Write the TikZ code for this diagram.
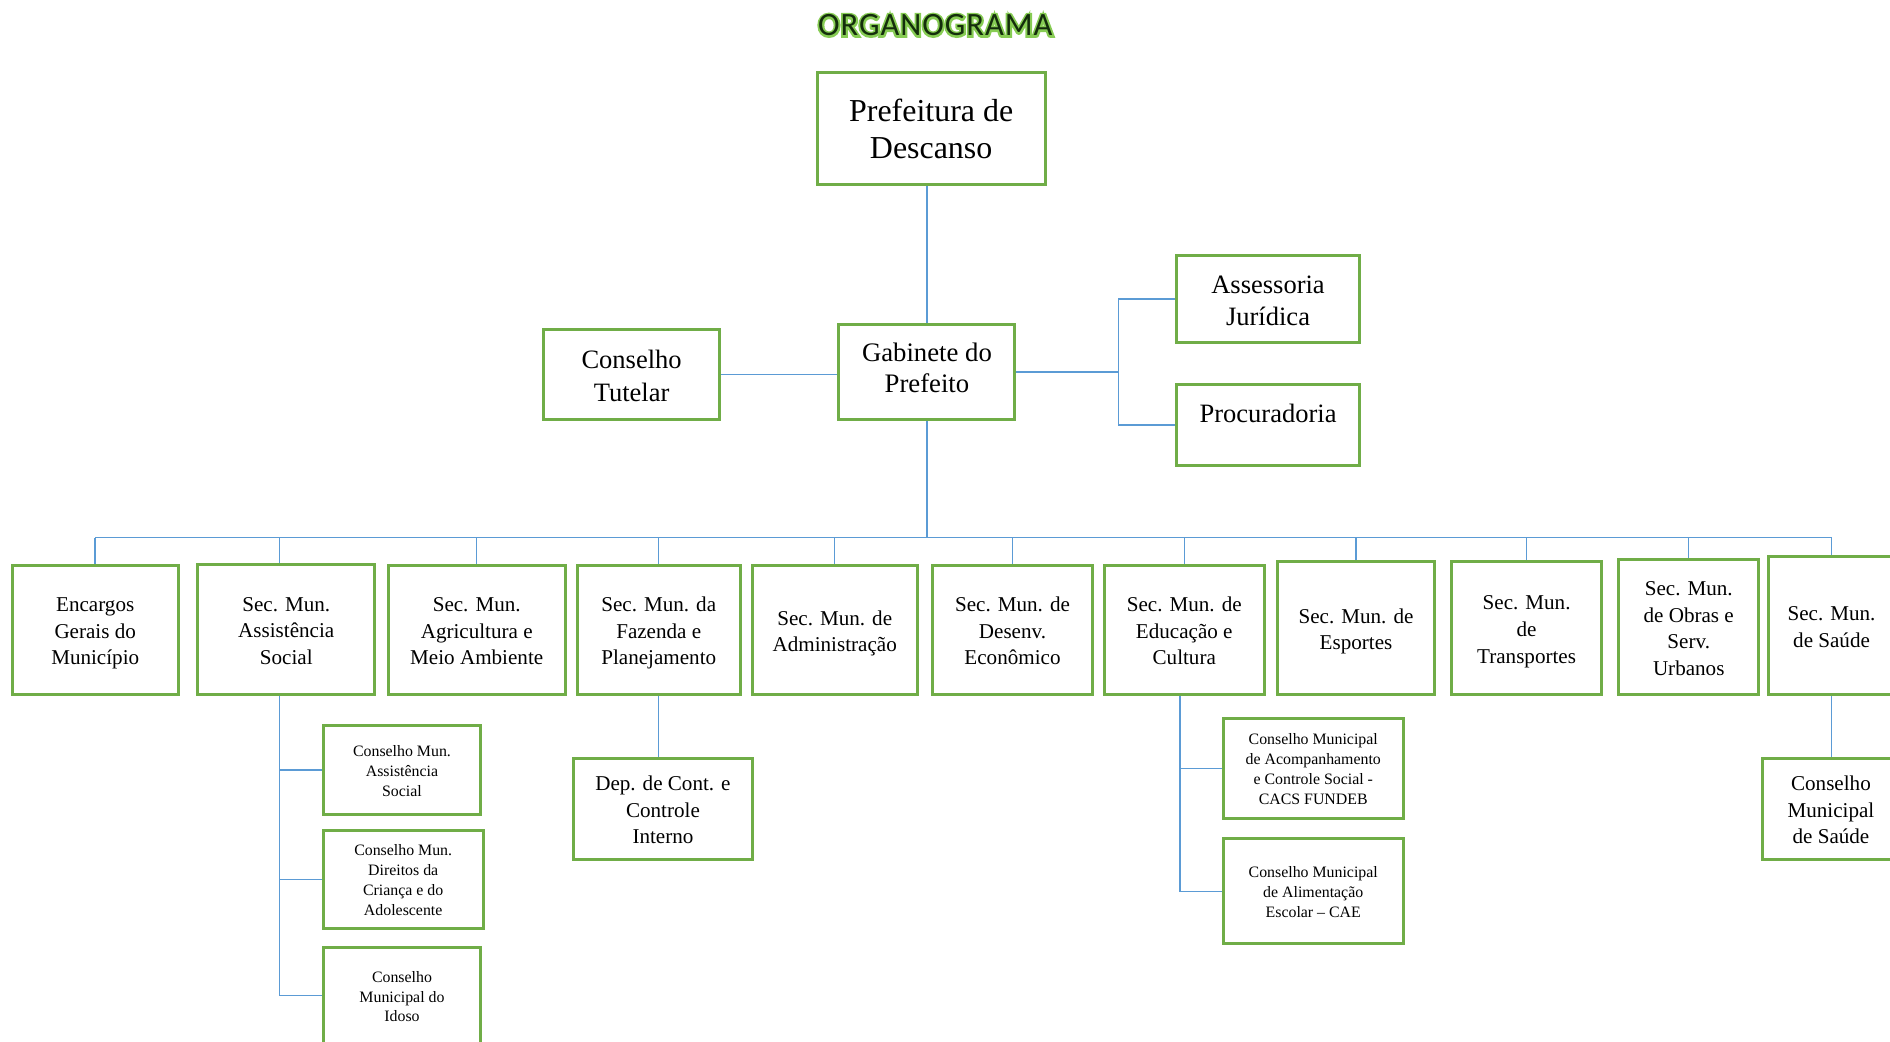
\documentclass[tikz,border=0pt]{standalone}
\usepackage{fontspec}
\setmainfont{Liberation Serif}
\newfontfamily\titlefont{Carlito}[LetterSpace=3]
\definecolor{boxgreen}{HTML}{70AD47}
\definecolor{lineblue}{HTML}{5B9BD5}
\definecolor{titlefill}{HTML}{142E0C}
\definecolor{titleglow}{HTML}{86CC55}
\tikzset{
  box/.style={draw=boxgreen, line width=1.5pt, fill=white, inner sep=0pt, align=center},
  big/.style={font=\fontsize{15.9}{18}\selectfont},
  gab/.style={font=\fontsize{13.3}{15.6}\selectfont},
  mid/.style={font=\fontsize{13.2}{16.4}\selectfont},
  reg/.style={font=\fontsize{10.5}{13.2}\selectfont},
  sml/.style={font=\fontsize{7.9}{9.9}\selectfont},
  conn/.style={draw=lineblue, line width=0.75pt},
}
\newcommand\tx[2][-0.12\baselineskip]{\raisebox{#1}[\height][\depth]{\begin{tabular}{@{}c@{}}#2\end{tabular}}}
\newcommand\mkbox[7]{%
  \node[box,#6, minimum width={(#4-#2)*0.6pt}, minimum height={(#5-#3)*0.6pt}]
    (#1) at ({(#2+#4)/2},{(#3+#5)/2}) {#7};}
\begin{document}
\begin{tikzpicture}[x=0.6pt,y=-0.6pt]
\useasboundingbox (0,0) rectangle (1568,864);
\node (title) at (776,21) {\titlefont\fontsize{16.2}{18}\selectfont\rlap{\textcolor{titleglow}{\special{pdf:literal direct 2 Tr 2.0 w 0.53 0.80 0.33 RG}ORGANOGRAMA\special{pdf:literal direct 0 Tr}}}\textcolor{titlefill}{ORGANOGRAMA}};
% top
\mkbox{pref}{678}{60}{867}{153}{big}{\tx{Prefeitura de\\Descanso}}
\mkbox{gab}{696}{269}{842}{348}{gab}{\tx[0.6pt]{Gabinete do\\Prefeito}}
\mkbox{ct}{451}{273}{597}{348}{mid}{\tx{Conselho\\Tutelar}}
\mkbox{ass}{976}{212}{1128}{284}{mid}{\tx{Assessoria\\Jurídica}}
\mkbox{pro}{976}{319}{1128}{386}{mid}{\tx[4.5pt]{Procuradoria}}
% second row
\mkbox{enc}{10}{469}{148}{576}{reg}{\tx{Encargos\\Gerais do\\Município}}
\mkbox{asm}{164}{468}{311}{576}{reg}{\tx{Sec. Mun.\\Assistência\\Social}}
\mkbox{agr}{322}{469}{469}{576}{reg}{\tx{Sec. Mun.\\Agricultura e\\Meio Ambiente}}
\mkbox{faz}{479}{469}{614}{576}{reg}{\tx{Sec. Mun. da\\Fazenda e\\Planejamento}}
\mkbox{adm}{624}{469}{761}{576}{reg}{\tx{Sec. Mun. de\\Administração}}
\mkbox{des}{774}{469}{906}{576}{reg}{\tx{Sec. Mun. de\\Desenv.\\Econômico}}
\mkbox{edu}{916}{469}{1049}{576}{reg}{\tx{Sec. Mun. de\\Educação e\\Cultura}}
\mkbox{esp}{1060}{466}{1190}{576}{reg}{\tx{Sec. Mun. de\\Esportes}}
\mkbox{tra}{1204}{466}{1329}{576}{reg}{\tx{Sec. Mun.\\de\\Transportes}}
\mkbox{obr}{1343}{464}{1459}{576}{reg}{\tx{Sec. Mun.\\de Obras e\\Serv.\\Urbanos}}
\mkbox{sau}{1467}{462}{1572}{576}{reg}{\tx{Sec. Mun.\\de Saúde}}
% third level
\mkbox{cas}{268}{602}{399}{676}{sml}{\tx{Conselho Mun.\\Assistência\\Social}}
\mkbox{cdc}{268}{689}{401}{770}{sml}{\tx{Conselho Mun.\\Direitos da\\Criança e do\\Adolescente}}
\mkbox{cid}{268}{786}{399}{866}{sml}{\tx{Conselho\\Municipal do\\Idoso}}
\mkbox{dep}{476}{629}{624}{713}{reg}{\tx{Dep. de Cont. e\\Controle\\Interno}}
\mkbox{cacs}{1015}{596}{1164}{679}{sml}{\tx{Conselho Municipal\\de Acompanhamento\\e Controle Social -\\CACS FUNDEB}}
\mkbox{cae}{1015}{696}{1164}{783}{sml}{\tx{Conselho Municipal\\de Alimentação\\Escolar -- CAE}}
\mkbox{cms}{1462}{629}{1576}{713}{reg}{\tx{Conselho\\Municipal\\de Saúde}}
% connectors
\draw[conn] (gab.north |- pref.south) -- (gab.north);
\draw[conn] (ct.east) -- (ct.east -| gab.west);
\coordinate (gr) at (928,308.5);
\draw[conn] (gab.east) -- (gab.east -| gr);
\draw[conn] (ass.west) -| (gr) |- (pro.west);
\coordinate (bus) at (770,446);
\draw[conn] (gab.south) -- (gab.south |- bus);
\draw[conn] (enc.north |- bus) -- (sau.north |- bus);
\foreach \n in {enc,agr,faz,adm,des,edu,esp,tra,obr,sau}
  \draw[conn] (\n.north) -- (\n.north |- bus);
\draw[conn] ([xshift=-3.3pt]asm.north) -- ([xshift=-3.3pt]asm.north |- bus);
\draw[conn] ([xshift=-3.3pt]asm.south) |- (cas.west);
\draw[conn] ([xshift=-3.3pt]asm.south) |- (cdc.west);
\draw[conn] ([xshift=-3.3pt]asm.south) |- (cid.west);
\draw[conn] (faz.south) -- (faz.south |- dep.north);
\draw[conn] ([xshift=-2.1pt]edu.south) |- (cacs.west);
\draw[conn] ([xshift=-2.1pt]edu.south) |- (cae.west);
\draw[conn] (sau.south) -- (sau.south |- cms.north);
\end{tikzpicture}
\end{document}
